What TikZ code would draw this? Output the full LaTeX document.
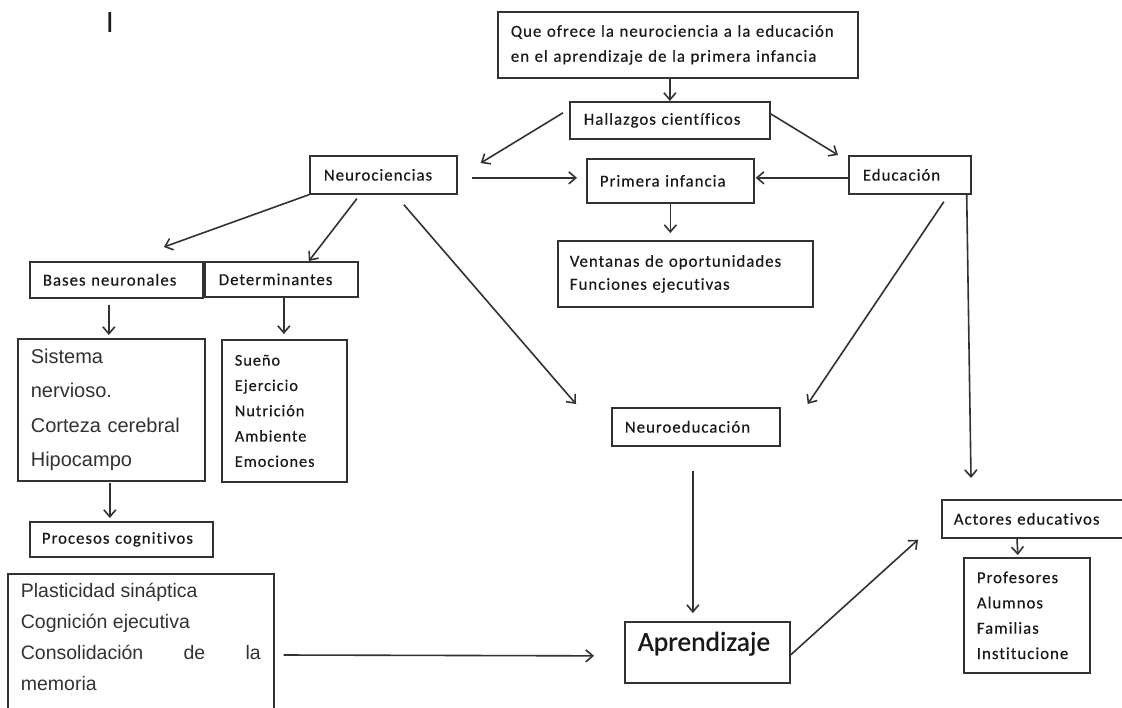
\documentclass[tikz,border=0pt]{standalone}
\usepackage{fontspec}
\setmainfont{Carlito}
\newfontfamily\calf[LetterSpace=6,Ligatures=NoCommon,FakeBold=0.4]{Carlito}
\newfontfamily\calp[FakeBold=0.8]{Carlito}
\newfontfamily\arif{Liberation Sans}
\usetikzlibrary{arrows.meta,calc}
\definecolor{lc}{RGB}{50,50,50}
\definecolor{tc}{RGB}{25,25,25}
\definecolor{ac}{RGB}{50,50,50}
\tikzset{
  box/.style={draw=lc, line width=1.7pt, inner ysep=0pt, anchor=north west, align=left, text=tc,
    font=\calf\fontsize{16.8}{25}\selectfont},
  arr/.style={draw=lc, line width=1.6pt, -{Straight Barb[length=7pt,width=12pt]}},
}
\begin{document}
\begin{tikzpicture}[x=1pt,y=-1pt]
\clip (0,0) rectangle (1122,707);
\fill[white] (0,0) rectangle (1122,707);

\node[font=\arif\fontsize{29}{29}\selectfont, text=tc, inner sep=0pt] (ttl) at (110,22.5) {I};

\node[box, text width=334pt, inner xsep=13pt, minimum height=66pt] (top) at (497,11)
  {Que ofrece la neurociencia a la educación\\en el aprendizaje de la primera infancia};
\node[box, text width=172pt, inner xsep=14pt, minimum height=37pt] (hall) at (569,101) {Hallazgos científicos};
\node[box, text width=119pt, inner xsep=14pt, minimum height=38pt] (neuro) at (309,155) {Neurociencias};
\node[box, text width=141pt, inner xsep=13pt, minimum height=44pt] (prim) at (586,158) {Primera infancia};
\node[box, text width=94pt, inner xsep=14pt, minimum height=38pt] (edu) at (848,155) {Educación};
\node[box, text width=231pt, inner xsep=12pt, minimum height=66pt, font=\calf\fontsize{16.8}{23}\selectfont] (vent) at (557,240)
  {Ventanas de oportunidades\\Funciones ejecutivas};
\node[box, text width=147pt, inner xsep=13pt, minimum height=36pt] (bases) at (29,261) {Bases neuronales};
\node[box, text width=125pt, inner xsep=14pt, minimum height=35pt] (det) at (204,261) {Determinantes};
\node[box, text width=161pt, inner xsep=13pt, minimum height=142pt, text=ac, font=\arif\fontsize{20}{34.5}\selectfont] (sist) at (17,338)
  {Sistema\\nervioso.\\Corteza cerebral\\Hipocampo};
\node[box, text width=99pt, inner xsep=13pt, minimum height=142pt, font=\calf\fontsize{16.3}{25.3}\selectfont] (detl) at (221,339)
  {Sueño\\Ejercicio\\Nutrición\\Ambiente\\Emociones};
\node[box, text width=159pt, inner xsep=12pt, minimum height=35pt] (proc) at (29,521) {Procesos cognitivos};
\node[box, inner xsep=13pt, inner ysep=9pt, text=ac, font=\arif\fontsize{19.5}{31}\selectfont] (plast) at (7,573)
  {\parbox[t][132pt][t]{240pt}{\raggedright Plasticidad sináptica\\Cognición ejecutiva\\Consolidación\hfill de\hfill la\\memoria}};
\node[box, text width=142pt, inner xsep=13pt, minimum height=38pt] (neuroed) at (611,407) {Neuroeducación};
\node[box, text width=139pt, inner xsep=13pt, minimum height=61pt, text height=18pt, text depth=21pt,
  font=\calp\fontsize{27.5}{30}\selectfont] (apr) at (624,621) {Aprendizaje};
\node[box, text width=171pt, inner xsep=12pt, minimum height=38pt] (act) at (941,499) {Actores educativos};
\node[box, text width=100pt, inner xsep=13pt, minimum height=115pt, font=\calf\fontsize{16.8}{25.3}\selectfont] (prof) at (963,557)
  {Profesores\\Alumnos\\Familias\\Institucione};

% connectors
\draw[arr] (top.south -| hall.north) -- (hall.north);
\draw[arr] ($(hall.west)+(-6,-7.5)$) -- ($(neuro.north east)+(23,8)$);
\draw[arr] ($(hall.east)+(0,-6.5)$) -- ($(edu.north west)+(-10,0)$);
\draw[arr] ($(neuro.east)+(14,3)$) -- ($(prim.west)+(-9,-3)$);
\draw[arr] ($(edu.west)+(0,3)$) -- ($(prim.east)+(1,-3)$);
\draw[arr] (prim.south) -- ($(prim.south |- vent.north)+(0,-7)$);
\draw[arr] (neuro.south west) -- ($(bases.north)+(47.5,-14)$);
\draw[arr] ($(neuro.south)+(-26.5,4)$) -- ($(det.north)+(27.5,0)$);
\draw[arr] ($(neuro.south)+(20.5,10)$) -- ($(neuroed.north west)+(-35,-3)$);
\draw[arr] ($(edu.south)+(34,7)$) -- ($(neuroed.north east)+(27,-3)$);
\draw[arr] ($(edu.south east)+(-5,0)$) -- ($(act.north west)+(30,-21)$);
\draw[arr] ($(bases.south)+(-7.5,6)$) -- ($(sist.north)+(-2.5,-3)$);
\draw[arr] ($(det.south)+(2.5,0)$) -- ($(detl.north)+(-0.5,-5)$);
\draw[arr] ($(sist.south)+(-1.5,1)$) -- ($(proc.north)+(-11.5,-3)$);
\draw[arr] ($(plast.north east)+(9,82)$) -- ($(apr.west)+(-30,3.5)$);
\draw[arr] ($(neuroed.south)+(-3,24)$) -- ($(apr.north)+(-14.5,-8)$);
\draw[arr] ($(apr.east)+(0,2.5)$) -- ($(act.south west)+(-23,1)$);
\draw[arr] ($(act.south west)+(76,0)$) -- ($(prof.north)+(-9,-2)$);
\end{tikzpicture}
\end{document}
